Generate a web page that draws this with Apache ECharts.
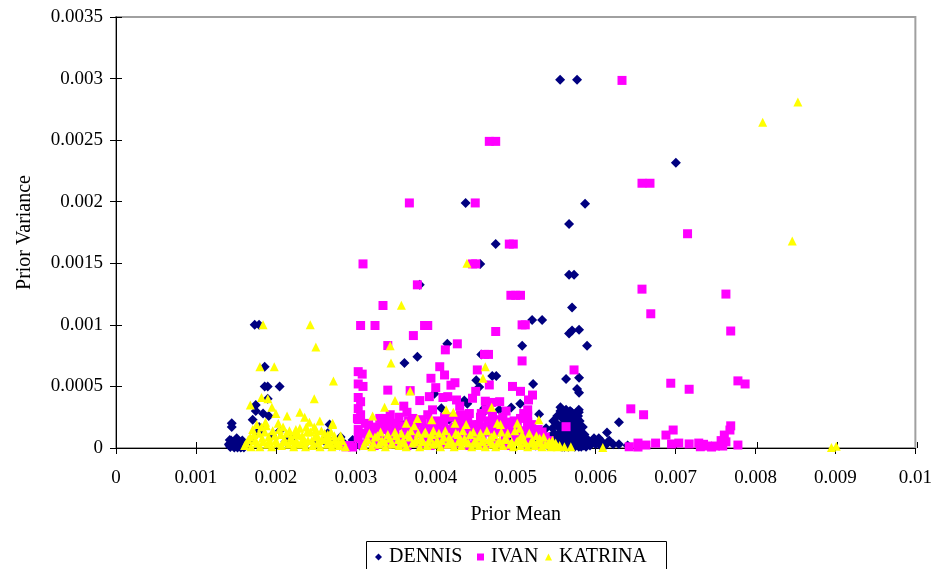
<!DOCTYPE html>
<html>
<head>
<meta charset="utf-8">
<script src="https://cdn.jsdelivr.net/npm/echarts@6/dist/echarts.min.js"></script>
<style>
  html, body { margin: 0; padding: 0; background: #fff; }
  #chart { width: 935px; height: 569px; }
</style>
</head>
<body>
<div id="chart"></div>
<script>
// Prior mean (x) against prior variance (y) for three storms.
const seriesNames = ['DENNIS', 'IVAN', 'KATRINA'];

const xTickLabels = ['0', '0.001', '0.002', '0.003', '0.004', '0.005', '0.006', '0.007', '0.008', '0.009', '0.01'];
const yTickLabels = ['0', '0.0005', '0.001', '0.0015', '0.002', '0.0025', '0.003', '0.0035'];

const dennisPoints = [
  // scattered high-variance points
  [0.005556, 0.002990], [0.005768, 0.002990], [0.007004, 0.002317], [0.005868, 0.001984],
  [0.004374, 0.001990], [0.005668, 0.001820], [0.004750, 0.001656], [0.004557, 0.001495],
  [0.005668, 0.001407], [0.005730, 0.001407], [0.005705, 0.001140], [0.003800, 0.001325],
  [0.005206, 0.001040], [0.005331, 0.001040], [0.005668, 0.000930], [0.005705, 0.000955],
  [0.005793, 0.000960], [0.005081, 0.000830], [0.005893, 0.000830], [0.004145, 0.000846],
  [0.003770, 0.000740], [0.003608, 0.000690], [0.004569, 0.000760], [0.004707, 0.000585],
  [0.004757, 0.000585], [0.004507, 0.000550], [0.004544, 0.000495], [0.003983, 0.000440],
  [0.004357, 0.000385], [0.004395, 0.000360], [0.004607, 0.000322], [0.004607, 0.000295],
  [0.004794, 0.000310], [0.004944, 0.000328], [0.004070, 0.000322], [0.004169, 0.000230],
  [0.003546, 0.000215], [0.004507, 0.000150], [0.005218, 0.000520], [0.005630, 0.000560],
  [0.005793, 0.000570], [0.005768, 0.000480], [0.005793, 0.000448], [0.005056, 0.000360],
  [0.005293, 0.000275], [0.005381, 0.000160], [0.005470, 0.000220],
  // low values under the IVAN / KATRINA band
  [0.002960, 0.000065], [0.003050, 0.000020], [0.003400, 0.000050], [0.003800, 0.000030],
  [0.004200, 0.000060], [0.004600, 0.000040], [0.004900, 0.000080], [0.004400, 0.000120],
  [0.004700, 0.000180], [0.005100, 0.000120], [0.005300, 0.000060], [0.005250, 0.000020],
  // left group
  [0.001735, 0.001000], [0.001790, 0.001000], [0.001860, 0.000660], [0.001860, 0.000500],
  [0.001898, 0.000500], [0.002047, 0.000500], [0.001898, 0.000400], [0.001748, 0.000350],
  [0.001748, 0.000300], [0.001911, 0.000260], [0.001710, 0.000230], [0.001448, 0.000200],
  [0.001448, 0.000170], [0.001790, 0.000170], [0.001423, 0.000065], [0.001412, 0.000030],
  [0.001430, 0.000008], [0.001455, 0.000045], [0.001470, 0.000015], [0.001500, 0.000055],
  [0.001520, 0.000005], [0.001545, 0.000025], [0.001570, 0.000010], [0.001600, 0.000004],
  [0.001640, 0.000030], [0.001680, 0.000060], [0.001760, 0.000120], [0.001810, 0.000150],
  [0.001950, 0.000100], [0.002050, 0.000140], [0.001840, 0.000280], [0.002120, 0.000050],
  [0.002172, 0.000090], [0.002220, 0.000050], [0.002360, 0.000030], [0.002480, 0.000040],
  [0.002600, 0.000060], [0.002800, 0.000020], [0.002647, 0.000120], [0.002672, 0.000190],
  [0.002722, 0.000065], [0.002809, 0.000090], [0.002850, 0.000040],
  [0.001420, 0.000020], [0.001440, 0.000060], [0.001490, 0.000030], [0.001510, 0.000080],
  [0.001540, 0.000040], [0.001580, 0.000060], [0.001480, 0.000005], [0.001560, 0.000005],
  // dense block near 0.0055 - 0.0059
  [0.005400, 0.000020], [0.005450, 0.000050], [0.005480, 0.000120], [0.005500, 0.000020],
  [0.005530, 0.000080], [0.005550, 0.000160], [0.005560, 0.000040], [0.005580, 0.000110],
  [0.005600, 0.000200], [0.005610, 0.000010], [0.005620, 0.000070], [0.005640, 0.000140],
  [0.005650, 0.000260], [0.005660, 0.000030], [0.005670, 0.000090], [0.005680, 0.000180],
  [0.005700, 0.000050], [0.005710, 0.000120], [0.005720, 0.000220], [0.005730, 0.000020],
  [0.005740, 0.000070], [0.005750, 0.000150], [0.005760, 0.000040], [0.005770, 0.000100],
  [0.005780, 0.000190], [0.005790, 0.000010], [0.005800, 0.000060], [0.005810, 0.000130],
  [0.005820, 0.000030], [0.005830, 0.000080], [0.005840, 0.000170], [0.005850, 0.000020],
  [0.005780, 0.000260], [0.005700, 0.000290], [0.005630, 0.000310], [0.005560, 0.000330],
  [0.005560, 0.000300], [0.005520, 0.000260], [0.005670, 0.000235], [0.005770, 0.000220],
  [0.005790, 0.000310], [0.005790, 0.000290],
  [0.005420, 0.000090], [0.005460, 0.000160], [0.005490, 0.000040], [0.005510, 0.000200],
  [0.005540, 0.000120], [0.005570, 0.000250], [0.005590, 0.000060], [0.005610, 0.000150],
  [0.005630, 0.000230], [0.005650, 0.000100], [0.005660, 0.000190], [0.005690, 0.000140],
  [0.005710, 0.000260], [0.005720, 0.000080], [0.005740, 0.000200], [0.005760, 0.000130],
  [0.005770, 0.000240], [0.005790, 0.000160], [0.005800, 0.000220], [0.005820, 0.000100],
  [0.005840, 0.000050], [0.005860, 0.000110], [0.005600, 0.000280], [0.005680, 0.000300],
  [0.005750, 0.000280], [0.005520, 0.000060], [0.005580, 0.000010], [0.005660, 0.000010],
  [0.005740, 0.000010], [0.005820, 0.000010],
  // tail to the right
  [0.005870, 0.000040], [0.005880, 0.000010], [0.005900, 0.000070], [0.005930, 0.000020],
  [0.005950, 0.000040], [0.005980, 0.000080], [0.006000, 0.000030], [0.006020, 0.000060],
  [0.006040, 0.000080], [0.006060, 0.000020], [0.006080, 0.000050], [0.006120, 0.000020],
  [0.006142, 0.000125], [0.006170, 0.000060], [0.006220, 0.000030], [0.006292, 0.000210],
  [0.006292, 0.000030], [0.006400, 0.000020]
];

const ivanPoints = [
  // scattered high-variance points
  [0.006330, 0.002985], [0.004670, 0.002490], [0.004750, 0.002490], [0.003670, 0.001990],
  [0.004494, 0.001990], [0.006580, 0.002150], [0.006680, 0.002150], [0.004920, 0.001656],
  [0.004970, 0.001656], [0.003090, 0.001495], [0.004460, 0.001495], [0.004500, 0.001495],
  [0.003770, 0.001325], [0.004940, 0.001240], [0.005000, 0.001240], [0.005060, 0.001240],
  [0.003340, 0.001157], [0.007150, 0.001740], [0.006580, 0.001290], [0.007630, 0.001250],
  [0.007690, 0.000950], [0.007780, 0.000545], [0.007870, 0.000520], [0.006690, 0.001090],
  [0.006940, 0.000526], [0.007170, 0.000477], [0.006440, 0.000318], [0.006600, 0.000270],
  [0.007690, 0.000180], [0.007680, 0.000146], [0.007610, 0.000105], [0.007630, 0.000050],
  [0.007780, 0.000024], [0.006880, 0.000105], [0.006970, 0.000146],
  // near-zero run beyond 0.006
  [0.006420, 0.000010], [0.006530, 0.000040], [0.006530, 0.000008], [0.006630, 0.000024],
  [0.006750, 0.000040], [0.006950, 0.000033], [0.007040, 0.000040], [0.007170, 0.000033],
  [0.007290, 0.000040], [0.007400, 0.000016], [0.007500, 0.000016], [0.007590, 0.000016],
  [0.007310, 0.000010], [0.007450, 0.000008], [0.007350, 0.000030], [0.007570, 0.000060],
  // middle range
  [0.005730, 0.000634], [0.005630, 0.000173], [0.005080, 0.001000], [0.005120, 0.001000],
  [0.003060, 0.000995], [0.003240, 0.000995], [0.003860, 0.000995], [0.003900, 0.000995],
  [0.003720, 0.000913], [0.004750, 0.000946], [0.004270, 0.000846], [0.003400, 0.000832],
  [0.004120, 0.000797], [0.004610, 0.000760], [0.004660, 0.000760], [0.005080, 0.000707],
  [0.004520, 0.000634], [0.004050, 0.000660], [0.003080, 0.000600], [0.003090, 0.000500],
  [0.003940, 0.000566], [0.004110, 0.000593], [0.004240, 0.000530], [0.004190, 0.000510],
  [0.004670, 0.000512], [0.004960, 0.000500], [0.005060, 0.000460], [0.003400, 0.000470],
  [0.003680, 0.000466], [0.003800, 0.000385], [0.003920, 0.000417], [0.004000, 0.000490],
  [0.004090, 0.000410], [0.004150, 0.000417], [0.004260, 0.000390], [0.004460, 0.000404],
  [0.004620, 0.000380], [0.004800, 0.000376], [0.004880, 0.000300], [0.005160, 0.000390],
  [0.005210, 0.000430], [0.005150, 0.000310], [0.005150, 0.000260], [0.005150, 0.000210],
  [0.005150, 0.000170], [0.005280, 0.000150], [0.004980, 0.000220], [0.003060, 0.000270],
  [0.003060, 0.000376], [0.003430, 0.000270], [0.003640, 0.000290], [0.003710, 0.000240],
  [0.003900, 0.000270], [0.003960, 0.000310], [0.004310, 0.000270], [0.004420, 0.000280],
  [0.004570, 0.000280], [0.004630, 0.000310], [0.004710, 0.000260], [0.003020, 0.000240],
  [0.003370, 0.000240], [0.003600, 0.000340], [0.004100, 0.000190], [0.004300, 0.000340],
  [0.004500, 0.000460], [0.004700, 0.000370], [0.004900, 0.000210], [0.005100, 0.000280],
  [0.004400, 0.000220], [0.004220, 0.000250], [0.003800, 0.000210], [0.003500, 0.000200],
  // column near 0.003
  [0.003030, 0.000620], [0.003030, 0.000520], [0.003030, 0.000410], [0.003030, 0.000320],
  [0.003030, 0.000230], [0.003030, 0.000150], [0.003030, 0.000080], [0.002880, 0.000010],
  [0.002920, 0.000020], [0.002960, 0.000008],
  // dense band close to zero
  [0.003080, 0.000030], [0.003150, 0.000090], [0.003180, 0.000150], [0.003230, 0.000020],
  [0.003270, 0.000120], [0.003310, 0.000060], [0.003350, 0.000170], [0.003390, 0.000030],
  [0.003420, 0.000100], [0.003470, 0.000140], [0.003510, 0.000050], [0.003560, 0.000180],
  [0.003590, 0.000090], [0.003640, 0.000020], [0.003670, 0.000150], [0.003720, 0.000070],
  [0.003760, 0.000120], [0.003800, 0.000040], [0.003850, 0.000160], [0.003880, 0.000090],
  [0.003930, 0.000020], [0.003970, 0.000140], [0.004010, 0.000070], [0.004050, 0.000180],
  [0.004090, 0.000110], [0.004130, 0.000030], [0.004170, 0.000150], [0.004210, 0.000080],
  [0.004260, 0.000130], [0.004290, 0.000040], [0.004340, 0.000170], [0.004380, 0.000090],
  [0.004420, 0.000020], [0.004460, 0.000140], [0.004500, 0.000060], [0.004540, 0.000190],
  [0.004580, 0.000110], [0.004620, 0.000030], [0.004670, 0.000150], [0.004710, 0.000080],
  [0.004750, 0.000130], [0.004790, 0.000040], [0.004830, 0.000170], [0.004870, 0.000090],
  [0.004910, 0.000020], [0.004950, 0.000140], [0.005000, 0.000060], [0.005040, 0.000110],
  [0.005090, 0.000030], [0.005130, 0.000090], [0.005180, 0.000050], [0.005220, 0.000120],
  [0.005270, 0.000020], [0.005320, 0.000070], [0.005380, 0.000030], [0.003120, 0.000200],
  [0.003330, 0.000210], [0.003690, 0.000190], [0.004020, 0.000220], [0.004800, 0.000230],
  [0.003100, 0.000120], [0.003160, 0.000190], [0.003210, 0.000130], [0.003260, 0.000170],
  [0.003300, 0.000240], [0.003380, 0.000150], [0.003440, 0.000200], [0.003490, 0.000120],
  [0.003540, 0.000250], [0.003620, 0.000160], [0.003660, 0.000220], [0.003740, 0.000170],
  [0.003830, 0.000230], [0.003870, 0.000130], [0.003940, 0.000200], [0.003990, 0.000170],
  [0.004070, 0.000150], [0.004110, 0.000250], [0.004160, 0.000120], [0.004230, 0.000170],
  [0.004270, 0.000210], [0.004320, 0.000130], [0.004360, 0.000240], [0.004410, 0.000160],
  [0.004480, 0.000190], [0.004520, 0.000130], [0.004560, 0.000250], [0.004600, 0.000170],
  [0.004650, 0.000220], [0.004690, 0.000130], [0.004740, 0.000200], [0.004780, 0.000160],
  [0.004840, 0.000250], [0.004890, 0.000140], [0.004930, 0.000190], [0.004970, 0.000120],
  [0.005020, 0.000170], [0.005060, 0.000240], [0.005110, 0.000140], [0.005200, 0.000190],
  [0.005250, 0.000110], [0.005330, 0.000130], [0.005370, 0.000090], [0.005420, 0.000060]
];

const katrinaPoints = [
  // scattered high-variance points
  [0.008530, 0.002810], [0.008090, 0.002645], [0.008460, 0.001680], [0.008950, 0.000005],
  [0.009010, 0.000015], [0.004390, 0.001500], [0.003570, 0.001160],
  // left group
  [0.001840, 0.001000], [0.002430, 0.001000], [0.002500, 0.000820], [0.001800, 0.000660],
  [0.001980, 0.000660], [0.002720, 0.000545], [0.001820, 0.000410], [0.001900, 0.000400],
  [0.002480, 0.000400], [0.001680, 0.000350], [0.001950, 0.000330], [0.002000, 0.000280],
  [0.002140, 0.000260], [0.002300, 0.000290], [0.002360, 0.000250], [0.002420, 0.000210],
  [0.002550, 0.000220], [0.002710, 0.000190], [0.001760, 0.000190], [0.001820, 0.000170],
  [0.001870, 0.000210], [0.002030, 0.000200], [0.002250, 0.000150], [0.002380, 0.000170],
  [0.002500, 0.000150], [0.002650, 0.000110], [0.002760, 0.000040],
  [0.001610, 0.000020], [0.001655, 0.000070], [0.001690, 0.000010], [0.001725, 0.000110],
  [0.001762, 0.000040], [0.001800, 0.000010], [0.001828, 0.000080], [0.001862, 0.000130],
  [0.001893, 0.000030], [0.001921, 0.000060], [0.001948, 0.000010], [0.001984, 0.000100],
  [0.002012, 0.000040], [0.002043, 0.000150], [0.002070, 0.000020], [0.002104, 0.000070],
  [0.002133, 0.000120], [0.002162, 0.000030], [0.002190, 0.000090], [0.002224, 0.000010],
  [0.002251, 0.000050], [0.002283, 0.000110], [0.002310, 0.000030], [0.002342, 0.000080],
  [0.002371, 0.000010], [0.002402, 0.000060], [0.002433, 0.000130], [0.002460, 0.000020],
  [0.002492, 0.000090], [0.002521, 0.000040], [0.002553, 0.000010], [0.002580, 0.000070],
  [0.002611, 0.000120], [0.002640, 0.000030], [0.002672, 0.000060], [0.002700, 0.000010],
  [0.002731, 0.000100], [0.002760, 0.000040], [0.002790, 0.000020], [0.002830, 0.000060],
  [0.002870, 0.000010],
  [0.001630, 0.000040], [0.001680, 0.000090], [0.001710, 0.000150], [0.001740, 0.000060],
  [0.001790, 0.000120], [0.001840, 0.000050], [0.001880, 0.000180], [0.001910, 0.000090],
  [0.001960, 0.000140], [0.002000, 0.000060], [0.002060, 0.000110], [0.002090, 0.000170],
  [0.002120, 0.000050], [0.002170, 0.000140], [0.002200, 0.000060], [0.002240, 0.000110],
  [0.002270, 0.000040], [0.002300, 0.000160], [0.002330, 0.000100], [0.002360, 0.000050],
  [0.002390, 0.000130], [0.002450, 0.000060], [0.002480, 0.000170], [0.002510, 0.000110],
  [0.002540, 0.000060], [0.002570, 0.000140], [0.002620, 0.000080], [0.002660, 0.000040],
  [0.002690, 0.000130], [0.002740, 0.000070], [0.002810, 0.000100],
  // middle group
  [0.003430, 0.000830], [0.003440, 0.000690], [0.003680, 0.000463], [0.003490, 0.000385],
  [0.003360, 0.000330], [0.003210, 0.000260], [0.004620, 0.000660], [0.004590, 0.000567],
  [0.004700, 0.000330], [0.004130, 0.000310], [0.004220, 0.000290], [0.003770, 0.000240],
  [0.003730, 0.000180], [0.003630, 0.000200], [0.003950, 0.000230], [0.003970, 0.000140],
  [0.003860, 0.000120], [0.004240, 0.000200], [0.004380, 0.000190], [0.004280, 0.000110],
  [0.004770, 0.000200], [0.005020, 0.000200], [0.005050, 0.000160], [0.005290, 0.000230],
  [0.004700, 0.000090], [0.004540, 0.000090], [0.004810, 0.000190], [0.005080, 0.000080],
  [0.005300, 0.000080], [0.005440, 0.000010], [0.005610, 0.000010], [0.005690, 0.000010],
  [0.006090, 0.000005], [0.002710, 0.000200], [0.002790, 0.000040],
  [0.003100, 0.000020], [0.003150, 0.000070], [0.003200, 0.000010], [0.003240, 0.000090],
  [0.003290, 0.000030], [0.003330, 0.000060], [0.003370, 0.000010], [0.003420, 0.000080],
  [0.003460, 0.000030], [0.003500, 0.000100], [0.003540, 0.000020], [0.003590, 0.000060],
  [0.003630, 0.000010], [0.003670, 0.000090], [0.003710, 0.000040], [0.003760, 0.000070],
  [0.003800, 0.000010], [0.003840, 0.000050], [0.003890, 0.000020], [0.003930, 0.000080],
  [0.003970, 0.000030], [0.004020, 0.000060], [0.004060, 0.000010], [0.004100, 0.000090],
  [0.004150, 0.000030], [0.004190, 0.000060], [0.004230, 0.000010], [0.004280, 0.000050],
  [0.004320, 0.000020], [0.004360, 0.000080], [0.004410, 0.000040], [0.004450, 0.000010],
  [0.004490, 0.000060], [0.004540, 0.000020], [0.004580, 0.000050], [0.004620, 0.000010],
  [0.004670, 0.000070], [0.004710, 0.000030], [0.004750, 0.000010], [0.004800, 0.000060],
  [0.004840, 0.000020], [0.004880, 0.000080], [0.004930, 0.000030], [0.004970, 0.000010],
  [0.005010, 0.000050], [0.005060, 0.000020], [0.005100, 0.000070], [0.005150, 0.000010],
  [0.005190, 0.000040], [0.005240, 0.000020], [0.005280, 0.000050], [0.005330, 0.000010],
  [0.005370, 0.000030], [0.005420, 0.000050], [0.005480, 0.000020], [0.005520, 0.000010],
  [0.003120, 0.000050], [0.003170, 0.000120], [0.003220, 0.000040], [0.003270, 0.000100],
  [0.003310, 0.000130], [0.003360, 0.000050], [0.003400, 0.000110], [0.003450, 0.000040],
  [0.003490, 0.000130], [0.003530, 0.000070], [0.003570, 0.000120], [0.003610, 0.000040],
  [0.003650, 0.000110], [0.003690, 0.000140], [0.003740, 0.000050], [0.003780, 0.000120],
  [0.003820, 0.000080], [0.003870, 0.000130], [0.003910, 0.000050], [0.003950, 0.000110],
  [0.004000, 0.000040], [0.004040, 0.000120], [0.004080, 0.000060], [0.004120, 0.000140],
  [0.004170, 0.000090], [0.004210, 0.000040], [0.004250, 0.000120], [0.004300, 0.000070],
  [0.004340, 0.000140], [0.004380, 0.000050], [0.004430, 0.000110], [0.004470, 0.000130],
  [0.004510, 0.000040], [0.004560, 0.000120], [0.004600, 0.000080], [0.004640, 0.000140],
  [0.004690, 0.000050], [0.004730, 0.000110], [0.004770, 0.000040], [0.004820, 0.000130],
  [0.004860, 0.000070], [0.004900, 0.000120], [0.004950, 0.000050], [0.004990, 0.000140],
  [0.005030, 0.000060], [0.005080, 0.000110], [0.005120, 0.000040], [0.005170, 0.000120],
  [0.005210, 0.000070], [0.005260, 0.000100], [0.005310, 0.000040], [0.005350, 0.000090],
  [0.005400, 0.000030], [0.005460, 0.000060], [0.005500, 0.000040], [0.005550, 0.000020]
];

const seriesData = [dennisPoints, ivanPoints, katrinaPoints];
const seriesColors = ['#000080', '#ff00ff', '#ffff00'];
const seriesSymbols = ['diamond', 'rect', 'triangle'];
const seriesSizes = [10, 9, 9];

const serif = '"Liberation Serif", "Times New Roman", serif';
const tickFont = { fontFamily: serif, fontSize: 19, color: '#000' };
const titleFont = { fontFamily: serif, fontSize: 20, color: '#000' };

const plotRect = { left: 116, top: 17, width: 801, height: 431 };

const chart = echarts.init(document.getElementById('chart'), null, { renderer: 'canvas' });

const option = {
  animation: false,
  backgroundColor: '#fff',
  grid: [
    Object.assign({ show: true, borderColor: '#a0a0a0', borderWidth: 2, backgroundColor: 'transparent' }, plotRect),
    Object.assign({ show: false }, plotRect)
  ],
  xAxis: [
    {
      type: 'value', gridIndex: 0, min: 0, max: 0.01, interval: 0.001, position: 'bottom',
      axisLine: { show: true, onZero: false, lineStyle: { color: '#000', width: 1 } },
      axisTick: { show: true, inside: false, length: 6, lineStyle: { color: '#000', width: 1 } },
      axisLabel: Object.assign({ margin: 21, showMinLabel: true, showMaxLabel: true,
        formatter: (v, i) => xTickLabels[i] }, tickFont),
      splitLine: { show: false },
      name: 'Prior Mean', nameLocation: 'middle', nameGap: 57, nameTextStyle: titleFont
    },
    {
      type: 'value', gridIndex: 1, min: 0, max: 0.01, interval: 0.001, position: 'bottom',
      axisLine: { show: false },
      axisTick: { show: true, inside: true, length: 6, lineStyle: { color: '#000', width: 1 } },
      axisLabel: { show: false }, splitLine: { show: false }
    }
  ],
  yAxis: [
    {
      type: 'value', gridIndex: 0, min: 0, max: 0.0035, interval: 0.0005, position: 'left',
      axisLine: { show: true, onZero: false, lineStyle: { color: '#000', width: 1 } },
      axisTick: { show: true, inside: false, length: 6, lineStyle: { color: '#000', width: 1 } },
      axisLabel: Object.assign({ margin: 13, showMinLabel: true, showMaxLabel: true,
        formatter: (v, i) => yTickLabels[i] }, tickFont),
      splitLine: { show: false },
      name: 'Prior Variance', nameLocation: 'middle', nameGap: 81, nameRotate: 90, nameTextStyle: titleFont
    },
    {
      type: 'value', gridIndex: 1, min: 0, max: 0.0035, interval: 0.0005, position: 'left',
      axisLine: { show: false },
      axisTick: { show: true, inside: true, length: 6, lineStyle: { color: '#000', width: 1 } },
      axisLabel: { show: false }, splitLine: { show: false }
    }
  ],
  legend: [
    { data: [seriesNames[0]], left: 375, top: 547 },
    { data: [seriesNames[1]], left: 477, top: 547 },
    { data: [seriesNames[2]], left: 545, top: 547 }
  ].map(l => Object.assign(l, {
    padding: 0, itemWidth: 7, itemHeight: 7, itemGap: 0,
    textStyle: Object.assign({ padding: [0, 0, 0, 2] }, titleFont)
  })),
  graphic: [{
    type: 'rect', silent: true,
    shape: { x: 366.5, y: 541.5, width: 300, height: 40 },
    style: { fill: 'none', stroke: '#000', lineWidth: 1 }
  }],
  series: seriesNames.map((name, k) => ({
    name: name,
    type: 'scatter',
    xAxisIndex: 0, yAxisIndex: 0,
    clip: false,
    symbol: seriesSymbols[k],
    symbolSize: seriesSizes[k],
    itemStyle: { color: seriesColors[k], opacity: 1 },
    emphasis: { disabled: true },
    data: seriesData[k]
  }))
};

chart.setOption(option);
</script>
</body>
</html>
